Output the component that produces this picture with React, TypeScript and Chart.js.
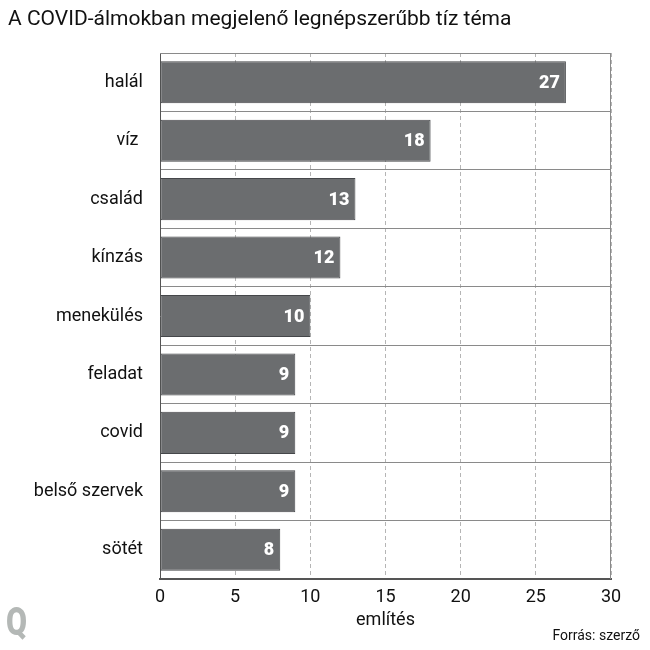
import React, { useEffect, useRef } from "react";
import Chart from "chart.js/auto";
import type { ChartConfiguration, Plugin } from "chart.js";

const TITLE = "A COVID-álmokban megjelenő legnépszerűbb tíz téma";
const CATEGORIES = ["halál", "víz ", "család", "kínzás", "menekülés", "feladat", "covid", "belső szervek", "sötét"];
const MENTIONS = [27, 18, 13, 12, 10, 9, 9, 9, 8];
const X_TICKS = [0, 5, 10, 15, 20, 25, 30];

const FONT = "Roboto";
const BAR_COLOR = "#6b6d6f";

const decorPlugin: Plugin = {
  id: "decor",
  afterDraw(chart) {
    const { ctx, chartArea } = chart;
    ctx.save();
    // frame: top + right edge
    ctx.strokeStyle = "#8a8a8a";
    ctx.lineWidth = 1;
    ctx.beginPath();
    ctx.moveTo(chartArea.left, chartArea.top + 0.5);
    ctx.lineTo(chartArea.right - 0.5, chartArea.top + 0.5);
    ctx.lineTo(chartArea.right - 0.5, chartArea.bottom);
    ctx.stroke();

    // values inside bars
    const meta = chart.getDatasetMeta(0);
    ctx.fillStyle = "#ffffff";
    ctx.font = `900 18px ${FONT}`;
    ctx.textAlign = "right";
    ctx.textBaseline = "middle";
    meta.data.forEach((bar: any, i) => {
      ctx.fillText(String(MENTIONS[i]), bar.x - 6, bar.y + 1);
    });

    // title
    ctx.fillStyle = "#111111";
    ctx.textAlign = "left";
    ctx.font = `21px ${FONT}`;
    ctx.fillText(TITLE, 8, 20);

    // axis title
    ctx.textAlign = "center";
    ctx.font = `18px ${FONT}`;
    ctx.fillText("említés", (chartArea.left + chartArea.right) / 2, 620);

    // source
    ctx.textAlign = "right";
    ctx.font = `14px ${FONT}`;
    ctx.fillText("Forrás: szerző", 640, 636);

    // logo
    ctx.translate(6, 625);
    ctx.scale(0.8, 1);
    ctx.textAlign = "left";
    ctx.fillStyle = "#b4b8b6";
    ctx.font = `900 38px ${FONT}`;
    ctx.fillText("Q", 0, 0);
    ctx.restore();
  },
};

export default function App() {
  const canvasRef = useRef<HTMLCanvasElement | null>(null);

  useEffect(() => {
    const canvas = canvasRef.current;
    if (!canvas) return;

    const config: ChartConfiguration = {
      type: "bar",
      data: {
        labels: CATEGORIES,
        datasets: [
          {
            label: "említés",
            data: MENTIONS,
            backgroundColor: BAR_COLOR,
            borderColor: "#45474a",
            borderWidth: 1,
            borderSkipped: false,
            categoryPercentage: 1,
            barPercentage: 0.72,
          },
        ],
      },
      options: {
        indexAxis: "y",
        responsive: false,
        animation: false,
        layout: { padding: { top: 53, right: 39, left: 0, bottom: 0 } },
        plugins: {
          legend: { display: false },
          tooltip: { enabled: false },
        },
        scales: {
          x: {
            type: "linear",
            min: 0,
            max: 30,
            afterBuildTicks(axis) {
              axis.ticks = X_TICKS.map((value) => ({ value }));
            },
            afterFit(axis) {
              axis.height = 71;
            },
            grid: {
              color: "#b5b5b5",
              drawTicks: false,
            },
            // in Chart.js 4 border.dash dashes the grid lines, the axis line stays solid
            border: { display: true, color: "#555555", width: 2, dash: [4, 3] },
            ticks: {
              color: "#111111",
              padding: 8,
              font: { family: FONT, size: 18 },
            },
          },
          y: {
            type: "category",
            afterFit(axis) {
              axis.width = 160;
            },
            grid: {
              color: "#8a8a8a",
              drawTicks: false,
              offset: true,
            },
            border: { display: true, color: "#555555", width: 1 },
            ticks: {
              color: "#111111",
              padding: 17,
              font: { family: FONT, size: 18 },
            },
          },
        },
      },
      plugins: [decorPlugin],
    };

    const chart = new Chart(canvas, config);
    return () => {
      chart.destroy();
    };
  }, []);

  return (
    <div style={{ position: "absolute", left: 0, top: 0, width: 650, height: 650, background: "#fff" }}>
      <canvas ref={canvasRef} width={650} height={650} style={{ width: 650, height: 650 }} />
    </div>
  );
}
